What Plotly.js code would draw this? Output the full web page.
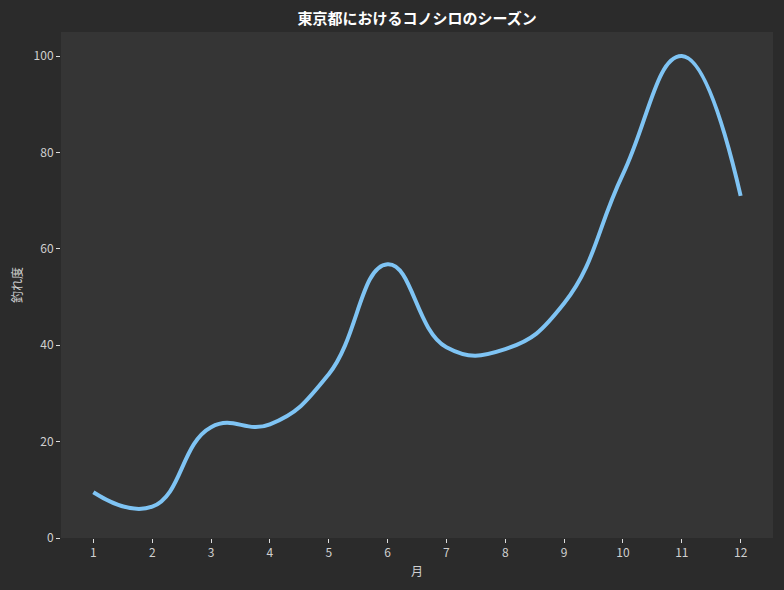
<!DOCTYPE html>
<html>
<head>
<meta charset="utf-8">
<script src="https://cdn.plot.ly/plotly-3.0.1.min.js"></script>
<style>html,body{margin:0;padding:0;background:#2b2b2b;}</style>
</head>
<body>
<div id="chart" style="width:784px;height:590px;"></div>
<script>
const months = [1, 2, 3, 4, 5, 6, 7, 8, 9, 10, 11, 12];
const tickLabels = ["1","2","3","4","5","6","7","8","9","10","11","12"];
const catchRate = [9.5, 6.5, 23, 23.6, 34, 56.8, 39.6, 39.2, 48.7, 75.5, 100, 71];

const font = "'Noto Sans CJK JP', 'Noto Sans', sans-serif";

Plotly.newPlot('chart', [{
  x: months,
  y: catchRate,
  type: 'scatter',
  mode: 'lines',
  line: {color: '#7fc4f4', width: 4, shape: 'spline', smoothing: 1.3},
  hoverinfo: 'skip'
}], {
  width: 784, height: 590,
  paper_bgcolor: '#2b2b2b',
  plot_bgcolor: '#353535',
  margin: {l: 61, r: 11, t: 32, b: 52},
  showlegend: false,
  title: {text: '東京都におけるコノシロのシーズン', x: 0.532, xanchor: 'center', y: 0.969, yanchor: 'middle',
          font: {family: font, size: 15, color: '#ffffff', weight: 'bold'}},
  xaxis: {
    range: [0.45, 12.55], tickvals: months, ticktext: tickLabels,
    showgrid: false, zeroline: false, showline: false,
    ticks: 'outside', ticklen: 4, tickwidth: 1, tickcolor: '#dddddd',
    tickfont: {family: font, size: 12, color: '#d0d0d0'},
    title: {text: '月', font: {family: font, size: 12, color: '#d0d0d0'}, standoff: 8}
  },
  yaxis: {
    range: [0, 105], tickvals: [0, 20, 40, 60, 80, 100],
    showgrid: false, zeroline: false, showline: false,
    ticks: 'outside', ticklen: 4, tickwidth: 1, tickcolor: '#dddddd',
    tickfont: {family: font, size: 12, color: '#d0d0d0'},
    title: {text: '釣れ度', font: {family: font, size: 12, color: '#d0d0d0'}, standoff: 8}
  }
}, {displayModeBar: false, staticPlot: true});
</script>
</body>
</html>
